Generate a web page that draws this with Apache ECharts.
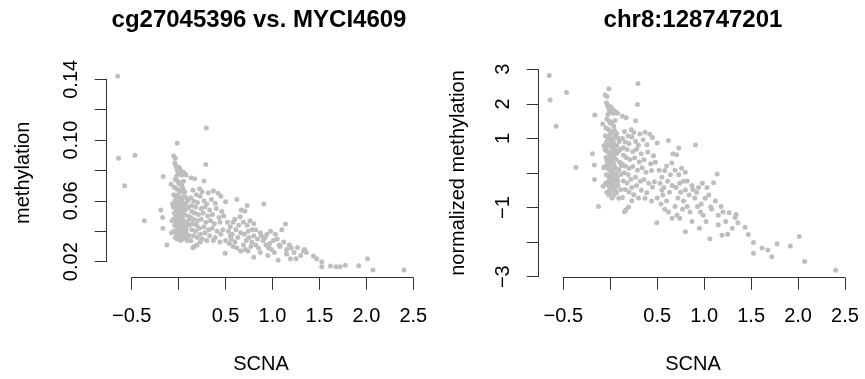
<!DOCTYPE html>
<html>
<head>
<meta charset="utf-8">
<script src="https://cdn.jsdelivr.net/npm/echarts@6/dist/echarts.min.js"></script>
<style>
  html, body { margin: 0; padding: 0; background: #fff; }
  #chart { width: 865px; height: 379px; }
</style>
</head>
<body>
<div id="chart"></div>
<script>
// Copy-number change (SCNA) per sample, shared by both panels
const scna = [
  -0.65, -0.64, -0.465, -0.575, -0.365, -0.165, -0.19, -0.17, -0.168, -0.125,
  -0.08, -0.015, 0.295, 0.29, -0.053, -0.035, -0.07, -0.075, -0.065,
  -0.04, -0.028, -0.018, -0.008, 0.006, 0.012, -0.025, 0.021, 0.033, 0.047,
  0.062, 0.078, -0.036, -0.011, 0.002, 0.016, 0.036, 0.052, -0.046, -0.021,
  0.004, 0.026, 0.044, 0.067, -0.052, -0.031, -0.006, 0.013, 0.031, 0.056,
  0.082, -0.041, -0.016, 0.001, 0.019, 0.042, 0.071, 0.096, -0.056, -0.032,
  -0.012, 0.008, 0.028, 0.049, 0.087, 0.108, -0.046, -0.022, 0.0, 0.018,
  0.039, 0.061, 0.101, -0.051, -0.026, -0.004, 0.015, 0.034, 0.056, 0.092,
  0.118, -0.041, -0.014, 0.006, 0.024, 0.046, 0.071, 0.112, -0.049, -0.029,
  -0.009, 0.011, 0.031, 0.052, 0.081, -0.036, -0.016, 0.002, 0.021, 0.041,
  0.066, 0.091, 0.111, -0.02, 0.01, 0.03, 0.0, -0.03, 0.05, 0.02,
  -0.01, 0.04, 0.07, -0.035, 0.025, 0.0, -0.02, 0.06, 0.035, 0.015,
  0.045, -0.005, 0.08,
  0.131, 0.17, 0.27, 0.152, 0.223, 0.19, 0.23, 0.25, 0.316, 0.37,
  0.42, 0.45, 0.39, 0.5, 0.13, 0.16, 0.2, 0.27, 0.3, 0.35,
  0.14, 0.18, 0.24, 0.28, 0.33, 0.4, 0.46, 0.14, 0.17, 0.21,
  0.26, 0.31, 0.36, 0.43, 0.48, 0.13, 0.16, 0.2, 0.24, 0.29,
  0.34, 0.38, 0.44, 0.15, 0.19, 0.22, 0.27, 0.32, 0.36, 0.41,
  0.47, 0.14, 0.18, 0.23, 0.28, 0.33, 0.39, 0.45, 0.16, 0.2,
  0.25, 0.3, 0.37, 0.44, 0.152, 0.195, 0.23, 0.496, 0.13, 0.166,
  0.52, 0.55, 0.58, 0.62, 0.667, 0.706, 0.73, 0.908, 0.656, 0.6,
  0.53, 0.57, 0.61, 0.64, 0.69, 0.73, 0.76, 0.8, 0.56, 0.6,
  0.63, 0.66, 0.7, 0.74, 0.78, 0.82, 0.87, 0.54, 0.58, 0.62,
  0.66, 0.69, 0.72, 0.75, 0.78, 0.8, 0.84, 0.88, 0.92, 0.94,
  0.98, 0.71, 0.74, 0.77, 0.8, 0.82, 0.85, 0.87, 0.9, 0.93,
  0.95, 0.97, 0.99, 1.01, 1.03, 1.05, 1.07, 1.08, 1.1, 1.138,
  1.12, 1.15, 1.15, 1.06, 1.02, 0.96, 1.18, 1.2, 0.5, 0.55,
  1.19, 1.25, 1.266, 1.34, 1.36, 1.33, 1.436, 1.47, 1.525, 1.525,
  1.617, 1.677, 1.72, 1.776, 1.918, 2.013, 2.07, 2.4, 1.3, 1.23
];

// Methylation beta value of cg27045396
const methylation = [
  0.142, 0.088, 0.090, 0.070, 0.047, 0.076, 0.054, 0.049, 0.042, 0.031,
  0.071, 0.098, 0.108, 0.084, 0.0895, 0.088, 0.047, 0.039, 0.058,
  0.085, 0.083, 0.081, 0.079, 0.082, 0.078, 0.076, 0.080, 0.077, 0.079,
  0.078, 0.077, 0.074, 0.073, 0.0715, 0.072, 0.070, 0.073, 0.069, 0.068,
  0.067, 0.066, 0.068, 0.066, 0.064, 0.063, 0.064, 0.062, 0.061, 0.063,
  0.062, 0.060, 0.059, 0.058, 0.057, 0.059, 0.058, 0.060, 0.056, 0.055,
  0.054, 0.055, 0.053, 0.054, 0.055, 0.056, 0.052, 0.051, 0.050, 0.051,
  0.049, 0.051, 0.050, 0.048, 0.047, 0.046, 0.047, 0.045, 0.047, 0.046,
  0.048, 0.044, 0.043, 0.042, 0.043, 0.041, 0.043, 0.044, 0.040, 0.039,
  0.040, 0.038, 0.039, 0.037, 0.039, 0.036, 0.035, 0.036, 0.034, 0.035,
  0.036, 0.034, 0.037, 0.062, 0.0605, 0.057, 0.053, 0.0575, 0.056, 0.049,
  0.0485, 0.052, 0.054, 0.0505, 0.0455, 0.044, 0.041, 0.0445, 0.0415, 0.040,
  0.038, 0.0375, 0.041,
  0.0753, 0.0746, 0.0731, 0.067, 0.068, 0.064, 0.063, 0.066, 0.0654, 0.0665,
  0.065, 0.063, 0.0584, 0.0595, 0.062, 0.060, 0.059, 0.060, 0.058, 0.061,
  0.057, 0.056, 0.055, 0.056, 0.054, 0.055, 0.053, 0.053, 0.052, 0.051,
  0.052, 0.050, 0.051, 0.049, 0.050, 0.049, 0.048, 0.047, 0.048, 0.046,
  0.047, 0.045, 0.046, 0.045, 0.044, 0.042, 0.043, 0.041, 0.042, 0.040,
  0.041, 0.041, 0.040, 0.038, 0.039, 0.037, 0.036, 0.038, 0.037, 0.036,
  0.035, 0.034, 0.034, 0.033, 0.0292, 0.031, 0.033, 0.0255, 0.034, 0.030,
  0.046, 0.043, 0.046, 0.061, 0.054, 0.0534, 0.057, 0.058, 0.0496, 0.048,
  0.040, 0.038, 0.041, 0.044, 0.046, 0.044, 0.047, 0.045, 0.035, 0.033,
  0.036, 0.039, 0.038, 0.040, 0.041, 0.041, 0.039, 0.032, 0.030, 0.029,
  0.027, 0.031, 0.034, 0.036, 0.033, 0.037, 0.035, 0.037, 0.036, 0.038,
  0.040, 0.028, 0.027, 0.030, 0.023, 0.031, 0.029, 0.026, 0.034, 0.031,
  0.024, 0.032, 0.028, 0.034, 0.038, 0.035, 0.031, 0.030, 0.041, 0.0448,
  0.033, 0.028, 0.025, 0.021, 0.026, 0.029, 0.031, 0.029, 0.034, 0.037,
  0.022, 0.022, 0.0294, 0.028, 0.026, 0.027, 0.0237, 0.022, 0.020, 0.0167,
  0.0171, 0.0167, 0.0166, 0.0176, 0.0174, 0.022, 0.0145, 0.0145, 0.024, 0.026
];

// Normalized methylation at chr8:128747201
const normalizedMethylation = [
  2.82, 2.11, 2.33, 1.35, 0.165, 1.68, 0.56, 0.23, -0.19, -0.97,
  1.42, 2.44, 2.59, 1.98, 2.26, 2.21, 0.15, -0.38, 0.79,
  2.03, 1.95, 1.89, 1.8, 1.92, 1.76, 1.69, 1.85, 1.72, 1.79,
  1.75, 1.73, 1.56, 1.5, 1.44, 1.47, 1.36, 1.52, 1.3, 1.26,
  1.2, 1.16, 1.24, 1.15, 1.08, 1.04, 1.09, 1.0, 0.95, 1.05,
  1.01, 0.9, 0.86, 0.81, 0.74, 0.84, 0.79, 0.91, 0.68, 0.62,
  0.57, 0.61, 0.5, 0.55, 0.63, 0.69, 0.45, 0.39, 0.32, 0.38,
  0.26, 0.4, 0.31, 0.2, 0.14, 0.08, 0.13, 0.02, 0.15, 0.09,
  0.21, -0.05, -0.12, -0.18, -0.11, -0.24, -0.13, -0.04, -0.3, -0.35,
  -0.29, -0.42, -0.37, -0.49, -0.36, -0.56, -0.64, -0.55, -0.72, -0.63,
  -0.57, -0.73, -0.48, 0.99, 0.93, 0.75, 0.51, 0.77, 0.67, 0.27,
  0.23, 0.44, 0.57, 0.35, 0.05, -0.06, -0.25, -0.02, -0.21, -0.31,
  -0.43, -0.46, -0.23,
  1.64, 1.6, 1.51, 1.2, 1.25, 1.07, 1.04, 1.17, 1.13, 1.18,
  1.12, 1.03, 0.82, 0.87, 1.0, 0.9, 0.85, 0.91, 0.8, 0.96,
  0.73, 0.68, 0.62, 0.69, 0.56, 0.61, 0.5, 0.51, 0.45, 0.39,
  0.44, 0.32, 0.38, 0.27, 0.31, 0.25, 0.2, 0.14, 0.19, 0.08,
  0.15, 0.02, 0.07, 0.01, -0.05, -0.18, -0.12, -0.24, -0.19, -0.3,
  -0.25, -0.23, -0.29, -0.42, -0.36, -0.5, -0.57, -0.41, -0.48, -0.55,
  -0.63, -0.72, -0.73, -0.81, -1.12, -0.98, -0.8, -1.44, -0.71, -1.06,
  0.08, -0.12, 0.07, 0.94, 0.56, 0.53, 0.72, 0.81, 0.29, 0.2,
  -0.3, -0.42, -0.24, -0.05, 0.08, -0.05, 0.14, 0.02, -0.64, -0.81,
  -0.56, -0.36, -0.42, -0.3, -0.24, -0.23, -0.36, -0.9, -1.05, -1.13,
  -1.31, -0.97, -0.72, -0.56, -0.81, -0.49, -0.64, -0.48, -0.56, -0.42,
  -0.3, -1.22, -1.31, -1.05, -1.7, -0.97, -1.13, -1.4, -0.72, -0.97,
  -1.6, -0.9, -1.22, -0.73, -0.42, -0.64, -0.98, -1.05, -0.28, -0.03,
  -0.81, -1.22, -1.5, -1.9, -1.4, -1.13, -0.97, -1.13, -0.72, -0.49,
  -1.8, -1.77, -1.15, -1.2, -1.44, -1.29, -1.57, -1.78, -2.01, -2.32,
  -2.17, -2.23, -2.42, -2.05, -2.11, -1.84, -2.56, -2.81, -1.6, -1.4
];

// Tick labels (empty strings keep the tick mark without a label)
const scnaTickLabels = ['\u22120.5', '', '0.5', '1.0', '1.5', '2.0', '2.5'];
const methylationTickLabels = ['0.02', '', '0.06', '', '0.10', '', '0.14'];
const normalizedTickLabels = ['\u22123', '', '\u22121', '', '1', '2', '3'];

const panelTitles = ['cg27045396 vs. MYCI4609', 'chr8:128747201'];
const xAxisNames = ['SCNA', 'SCNA'];
const yAxisNames = ['methylation', 'normalized methylation'];

const FONT = "'Liberation Sans', Arial, Helvetica, sans-serif";
const INK = '#000';
const AXIS_COLOR = '#333';
const POINT_COLOR = '#BEBEBE';

function pairs(xs, ys) {
  return xs.map((x, i) => [x, ys[i]]);
}

function labelFrom(labels, min, step) {
  return function (v) {
    const idx = Math.round((v - min) / step);
    return labels[idx] !== undefined ? labels[idx] : '';
  };
}

function axisBase(extra) {
  return Object.assign({
    type: 'value',
    scale: false,
    axisLine: { show: true, onZero: false, lineStyle: { color: AXIS_COLOR, width: 1 } },
    axisTick: { show: true, inside: false, length: 12, lineStyle: { color: AXIS_COLOR, width: 1 } },
    splitLine: { show: false },
    minorTick: { show: false }
  }, extra);
}

function labelStyle(formatter, margin, rotate) {
  return {
    show: true,
    color: INK,
    fontSize: 20,
    fontFamily: FONT,
    margin: margin,
    rotate: rotate || 0,
    formatter: formatter,
    showMinLabel: true,
    showMaxLabel: true,
    hideOverlap: false,
    interval: 0
  };
}

function textItem(text, x, y, size, weight, rotation) {
  return {
    type: 'text',
    x: x,
    y: y,
    rotation: rotation || 0,
    silent: true,
    style: {
      text: text,
      font: weight + ' ' + size + 'px ' + FONT,
      fill: INK,
      textAlign: 'center',
      align: 'center',
      textVerticalAlign: 'middle',
      verticalAlign: 'middle'
    }
  };
}

const chart = echarts.init(document.getElementById('chart'), null, { renderer: 'canvas' });

chart.setOption({
  animation: false,
  backgroundColor: '#fff',
  grid: [
    { left: 131.7, top: 79.3, width: 281.6, height: 182.4, outerBoundsMode: 'none', containLabel: false },
    { left: 563.3, top: 69.3, width: 281.7, height: 207.4, outerBoundsMode: 'none', containLabel: false }
  ],
  xAxis: [
    axisBase({
      gridIndex: 0, position: 'bottom', min: -0.5, max: 2.5, interval: 0.5, offset: 16,
      axisLabel: labelStyle(labelFrom(scnaTickLabels, -0.5, 0.5), 29)
    }),
    axisBase({
      gridIndex: 1, position: 'bottom', min: -0.5, max: 2.5, interval: 0.5, offset: 1,
      axisLabel: labelStyle(labelFrom(scnaTickLabels, -0.5, 0.5), 29)
    })
  ],
  yAxis: [
    axisBase({
      gridIndex: 0, position: 'left', min: 0.02, max: 0.14, interval: 0.02, offset: 25,
      axisLabel: labelStyle(labelFrom(methylationTickLabels, 0.02, 0.02), 25, 90)
    }),
    axisBase({
      gridIndex: 1, position: 'left', min: -3, max: 3, interval: 1, offset: 24.6,
      axisLabel: labelStyle(labelFrom(normalizedTickLabels, -3, 1), 25, 90)
    })
  ],
  series: [
    {
      type: 'scatter', xAxisIndex: 0, yAxisIndex: 0,
      data: pairs(scna, methylation),
      symbol: 'circle', symbolSize: 5, clip: false, silent: true,
      itemStyle: { color: POINT_COLOR, opacity: 1 }
    },
    {
      type: 'scatter', xAxisIndex: 1, yAxisIndex: 1,
      data: pairs(scna, normalizedMethylation),
      symbol: 'circle', symbolSize: 5, clip: false, silent: true,
      itemStyle: { color: POINT_COLOR, opacity: 1 }
    }
  ],
  graphic: [
    textItem(panelTitles[0], 259, 20.5, 24, 'bold'),
    textItem(panelTitles[1], 693, 20.5, 24, 'bold'),
    textItem(xAxisNames[0], 261, 364.8, 20, 'normal'),
    textItem(xAxisNames[1], 693, 364.8, 20, 'normal'),
    textItem(yAxisNames[0], 23, 172.8, 20, 'normal', Math.PI / 2),
    textItem(yAxisNames[1], 458, 173, 20, 'normal', Math.PI / 2)
  ]
});
</script>
</body>
</html>
